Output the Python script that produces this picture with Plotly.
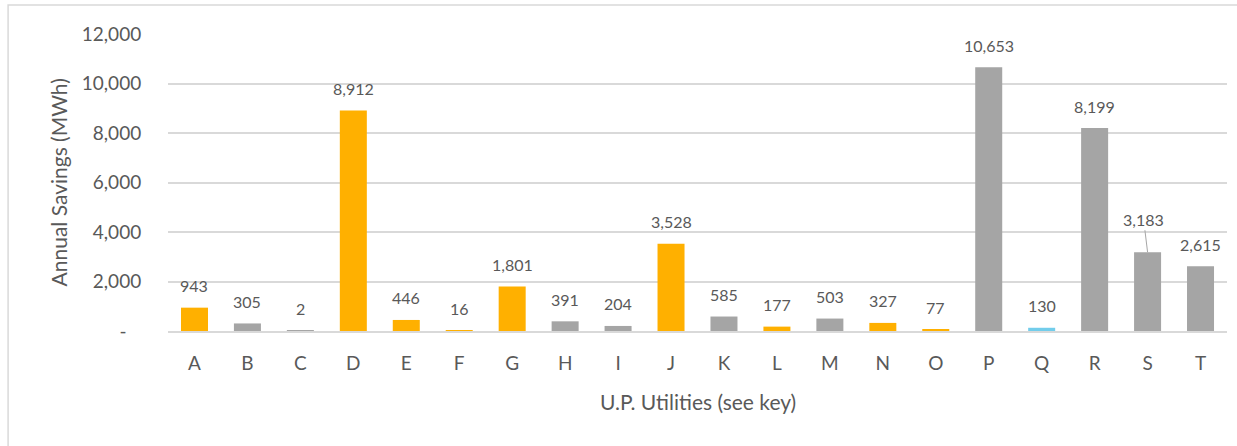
import plotly.graph_objects as go

categories = ["A", "B", "C", "D", "E", "F", "G", "H", "I", "J",
              "K", "L", "M", "N", "O", "P", "Q", "R", "S", "T"]
savings = [943, 305, 2, 8912, 446, 16, 1801, 391, 204, 3528,
           585, 177, 503, 327, 77, 10653, 130, 8199, 3183, 2615]
groups = ["o", "g", "g", "o", "o", "o", "o", "g", "g", "o",
          "g", "o", "g", "o", "o", "g", "b", "g", "g", "g"]
y_tick_vals = [0, 2000, 4000, 6000, 8000, 10000, 12000]
y_tick_text = ["-\u00a0\u00a0\u00a0", "2,000", "4,000", "6,000", "8,000", "10,000", "12,000"]

palette = {"o": "#FFB000", "g": "#A5A5A5", "b": "#72CDEB"}
FONT = "Lato"
TXT = "#595959"

fig = go.Figure()
fig.add_trace(go.Bar(
    x=categories, y=savings,
    marker=dict(color=[palette[g] for g in groups], line=dict(width=0)),
    hoverinfo="x+y",
))

annotations = []
for c, v in zip(categories, savings):
    if c == "S":
        annotations.append(dict(
            x=c, y=v, xref="x", yref="y", text=f"{v:,}",
            showarrow=True, ax=-4, ay=-33, arrowhead=0, arrowwidth=1,
            arrowcolor="#A6A6A6", standoff=0,
            font=dict(family=FONT, size=16, color=TXT)))
    else:
        annotations.append(dict(
            x=c, y=v, xref="x", yref="y", text=f"{v:,}",
            showarrow=False, yanchor="middle", yshift=22,
            font=dict(family=FONT, size=16, color=TXT)))

annotations.append(dict(
    x=-0.103, y=0.5, xref="paper", yref="paper", text="Annual Savings (MWh)",
    textangle=-90, showarrow=False, xanchor="center", yanchor="middle",
    font=dict(family=FONT, size=21, color=TXT)))
annotations.append(dict(
    x=0.5, y=-0.236, xref="paper", yref="paper", text="U.P. Utilities (see key)",
    showarrow=False, xanchor="center", yanchor="middle",
    font=dict(family=FONT, size=21, color=TXT)))

fig.update_layout(
    width=1237, height=446,
    margin=dict(l=168, r=10, t=34, b=115),
    paper_bgcolor="white", plot_bgcolor="white",
    bargap=0.49, showlegend=False,
    annotations=annotations,
    shapes=[dict(type="rect", xref="paper", yref="paper",
                 x0=-0.151, x1=1.05, y0=-0.6, y1=1.0976,
                 line=dict(color="#D9D9D9", width=1.5), layer="below")],
    xaxis=dict(
        showgrid=False, showline=True, linecolor="#D9D9D9", linewidth=2,
        ticks="outside", ticklen=14, tickcolor="rgba(0,0,0,0)",
        tickfont=dict(family=FONT, size=19, color=TXT),
    ),
    yaxis=dict(
        range=[0, 12000], tickvals=y_tick_vals, ticktext=y_tick_text,
        showgrid=True, gridcolor="#D9D9D9", gridwidth=1.5,
        zeroline=False, showline=False,
        ticks="outside", ticklen=22, tickcolor="rgba(0,0,0,0)",
        tickfont=dict(family=FONT, size=19, color=TXT),
    ),
)

fig.write_html(
    "out.html",
    config={"displayModeBar": False},
    post_script="document.body.style.margin='0';document.body.style.overflow='hidden';",
)
